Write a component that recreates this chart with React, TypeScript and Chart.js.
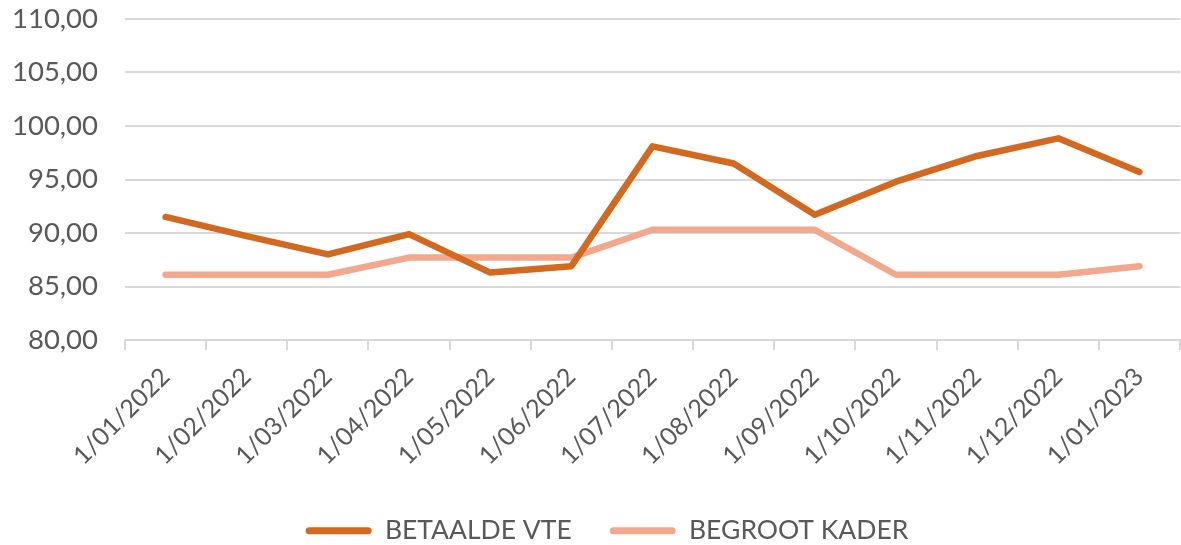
import React, { useEffect, useRef } from "react";
import { Chart, registerables } from "chart.js";

Chart.register(...registerables);

const categories = [
  "1/01/2022", "1/02/2022", "1/03/2022", "1/04/2022", "1/05/2022", "1/06/2022",
  "1/07/2022", "1/08/2022", "1/09/2022", "1/10/2022", "1/11/2022", "1/12/2022", "1/01/2023",
];
const betaaldeVte = [91.5, 89.7, 88.0, 89.9, 86.3, 86.9, 98.1, 96.5, 91.7, 94.8, 97.2, 98.85, 95.7];
const begrootKader = [86.1, 86.1, 86.1, 87.7, 87.7, 87.7, 90.3, 90.3, 90.3, 86.1, 86.1, 86.1, 86.9];
const seriesNames = ["BETAALDE VTE", "BEGROOT KADER"];
const seriesColors = ["#D2691E", "#F2A88C"];
const yMin = 80;
const yMax = 110;
const yStep = 5;

const FONT = "Lato, 'Open Sans', sans-serif";
const TEXT = "#595959";
const GRID = "#d9d9d9";

const legendShift = {
  id: "legendShift",
  afterLayout(chart: any) {
    const lg = chart.legend;
    if (lg) {
      lg.left += 17;
      lg.right += 17;
    }
  },
};

export default function App() {
  const ref = useRef<HTMLCanvasElement | null>(null);
  useEffect(() => {
    document.body.style.margin = "0";
    const canvas = ref.current;
    if (!canvas) return;
    const chart = new Chart(canvas, {
      type: "line",
      plugins: [legendShift],
      data: {
        labels: categories,
        datasets: [
          {
            label: seriesNames[0],
            data: betaaldeVte,
            borderColor: seriesColors[0],
            backgroundColor: seriesColors[0],
            borderWidth: 6.5,
            pointRadius: 0,
            tension: 0,
            borderCapStyle: "round",
            borderJoinStyle: "round",
          },
          {
            label: seriesNames[1],
            data: begrootKader,
            borderColor: seriesColors[1],
            backgroundColor: seriesColors[1],
            borderWidth: 6.5,
            pointRadius: 0,
            tension: 0,
            borderCapStyle: "round",
            borderJoinStyle: "round",
          },
        ],
      },
      options: {
        responsive: false,
        animation: false,
        layout: { padding: { left: 0, right: 1, top: 19, bottom: -9 } },
        plugins: {
          tooltip: { enabled: false },
          legend: {
            position: "bottom",
            labels: {
              boxWidth: 66,
              boxHeight: 7,
              padding: 38,
              color: TEXT,
              useBorderRadius: true,
              borderRadius: 3.5,
              font: { family: FONT, size: 26.5 },
              generateLabels: (c: any) =>
                c.data.datasets.map((ds: any, i: number) => ({
                  text: ds.label,
                  fillStyle: seriesColors[i],
                  strokeStyle: seriesColors[i],
                  lineWidth: 0,
                  fontColor: TEXT,
                  borderRadius: 3.5,
                  hidden: false,
                  datasetIndex: i,
                })),
            },
          },
        },
        scales: {
          x: {
            offset: true,
            afterFit: (s: any) => {
              s.paddingLeft = 0;
              s.paddingRight = 0;
              s.height = 139.5;
            },
            grid: {
              offset: true,
              drawOnChartArea: false,
              drawTicks: true,
              tickLength: 10,
              color: GRID,
              lineWidth: 2,
            },
            border: { display: true, color: GRID, width: 2 },
            ticks: {
              maxRotation: 45,
              minRotation: 45,
              color: TEXT,
              font: { family: FONT, size: 25 },
              padding: 12,
              autoSkip: false,
            },
          },
          y: {
            min: yMin,
            max: yMax,
            afterFit: (s: any) => {
              s.width = 125;
              s.paddingTop = 0;
              s.paddingBottom = 0;
            },
            grid: { color: GRID, lineWidth: 2, drawTicks: false },
            border: { display: false },
            ticks: {
              stepSize: yStep,
              padding: 27,
              color: TEXT,
              font: { family: FONT, size: 27.5 },
              callback: (v: any) => Number(v).toFixed(2).replace(".", ","),
            },
          },
        },
      },
    });
    return () => chart.destroy();
  }, []);
  return <canvas ref={ref} width={1181} height={545} style={{ display: "block" }} />;
}
